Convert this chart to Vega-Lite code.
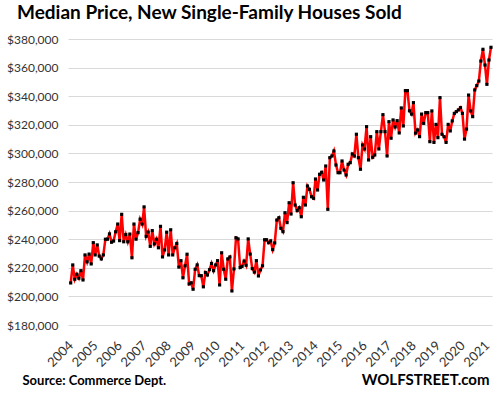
{
"$schema": "https://vega.github.io/schema/vega-lite/v6.json",
"width": 424, "height": 286,
"autosize": "none",
"padding": {"left": 68, "top": 39, "right": 8, "bottom": 71},
"background": "white",
"title": {"text": "Median Price, New Single-Family Houses Sold", "anchor": "start", "frame": "group", "dx": -51, "offset": -5, "baseline": "alphabetic", "font": "Lato", "fontSize": 19, "fontWeight": "bold", "color": "black"},
"config": {"view": {"stroke": null}, "font": "Lato"},
"data": {"values": [
{"month":"2004-03-01","price":209400},{"month":"2004-04-01","price":222000},{"month":"2004-05-01","price":212000},{"month":"2004-06-01","price":215500},{"month":"2004-07-01","price":212700},{"month":"2004-08-01","price":218000},{"month":"2004-09-01","price":211500},{"month":"2004-10-01","price":229000},{"month":"2004-11-01","price":224200},{"month":"2004-12-01","price":229600},
{"month":"2005-01-01","price":222700},{"month":"2005-02-01","price":237600},{"month":"2005-03-01","price":229000},{"month":"2005-04-01","price":236000},{"month":"2005-05-01","price":228200},{"month":"2005-06-01","price":226200},{"month":"2005-07-01","price":229000},{"month":"2005-08-01","price":240000},{"month":"2005-09-01","price":240000},{"month":"2005-10-01","price":243700},{"month":"2005-11-01","price":237900},{"month":"2005-12-01","price":238700},
{"month":"2006-01-01","price":245200},{"month":"2006-02-01","price":250600},{"month":"2006-03-01","price":239000},{"month":"2006-04-01","price":257400},{"month":"2006-05-01","price":238200},{"month":"2006-06-01","price":243200},{"month":"2006-07-01","price":238200},{"month":"2006-08-01","price":243600},{"month":"2006-09-01","price":227000},{"month":"2006-10-01","price":250600},{"month":"2006-11-01","price":240000},{"month":"2006-12-01","price":244600},
{"month":"2007-01-01","price":254000},{"month":"2007-02-01","price":250600},{"month":"2007-03-01","price":262600},{"month":"2007-04-01","price":242000},{"month":"2007-05-01","price":245000},{"month":"2007-06-01","price":235000},{"month":"2007-07-01","price":246000},{"month":"2007-08-01","price":236700},{"month":"2007-09-01","price":240000},{"month":"2007-10-01","price":234000},{"month":"2007-11-01","price":249000},{"month":"2007-12-01","price":227600},
{"month":"2008-01-01","price":232500},{"month":"2008-02-01","price":244900},{"month":"2008-03-01","price":229000},{"month":"2008-04-01","price":246600},{"month":"2008-05-01","price":229000},{"month":"2008-06-01","price":234000},{"month":"2008-07-01","price":237000},{"month":"2008-08-01","price":220500},{"month":"2008-09-01","price":225000},{"month":"2008-10-01","price":213000},{"month":"2008-11-01","price":221400},{"month":"2008-12-01","price":229500},
{"month":"2009-01-01","price":208700},{"month":"2009-02-01","price":209500},{"month":"2009-03-01","price":205000},{"month":"2009-04-01","price":219000},{"month":"2009-05-01","price":222000},{"month":"2009-06-01","price":214500},{"month":"2009-07-01","price":214500},{"month":"2009-08-01","price":206700},{"month":"2009-09-01","price":216700},{"month":"2009-10-01","price":215000},{"month":"2009-11-01","price":218700},{"month":"2009-12-01","price":223000},
{"month":"2010-01-01","price":218000},{"month":"2010-02-01","price":222000},{"month":"2010-03-01","price":225000},{"month":"2010-04-01","price":208000},{"month":"2010-05-01","price":230500},{"month":"2010-06-01","price":219000},{"month":"2010-07-01","price":212000},{"month":"2010-08-01","price":226200},{"month":"2010-09-01","price":227600},{"month":"2010-10-01","price":203800},{"month":"2010-11-01","price":219200},{"month":"2010-12-01","price":241000},
{"month":"2011-01-01","price":240200},{"month":"2011-02-01","price":220200},{"month":"2011-03-01","price":221000},{"month":"2011-04-01","price":224700},{"month":"2011-05-01","price":221800},{"month":"2011-06-01","price":240200},{"month":"2011-07-01","price":229600},{"month":"2011-08-01","price":219400},{"month":"2011-09-01","price":217000},{"month":"2011-10-01","price":225000},{"month":"2011-11-01","price":214300},{"month":"2011-12-01","price":218500},
{"month":"2012-01-01","price":221400},{"month":"2012-02-01","price":239600},{"month":"2012-03-01","price":239600},{"month":"2012-04-01","price":237500},{"month":"2012-05-01","price":238800},{"month":"2012-06-01","price":232700},{"month":"2012-07-01","price":237400},{"month":"2012-08-01","price":253400},{"month":"2012-09-01","price":255000},{"month":"2012-10-01","price":247600},{"month":"2012-11-01","price":245300},{"month":"2012-12-01","price":258500},
{"month":"2013-01-01","price":251600},{"month":"2013-02-01","price":265500},{"month":"2013-03-01","price":257600},{"month":"2013-04-01","price":279500},{"month":"2013-05-01","price":263900},{"month":"2013-06-01","price":260000},{"month":"2013-07-01","price":262000},{"month":"2013-08-01","price":255700},{"month":"2013-09-01","price":269300},{"month":"2013-10-01","price":263900},{"month":"2013-11-01","price":277200},{"month":"2013-12-01","price":274900},
{"month":"2014-01-01","price":269700},{"month":"2014-02-01","price":268600},{"month":"2014-03-01","price":282100},{"month":"2014-04-01","price":274400},{"month":"2014-05-01","price":285400},{"month":"2014-06-01","price":286800},{"month":"2014-07-01","price":281400},{"month":"2014-08-01","price":291200},{"month":"2014-09-01","price":260900},{"month":"2014-10-01","price":297000},{"month":"2014-11-01","price":298200},{"month":"2014-12-01","price":301700},
{"month":"2015-01-01","price":291900},{"month":"2015-02-01","price":286500},{"month":"2015-03-01","price":286500},{"month":"2015-04-01","price":294700},{"month":"2015-05-01","price":288400},{"month":"2015-06-01","price":284900},{"month":"2015-07-01","price":292400},{"month":"2015-08-01","price":293500},{"month":"2015-09-01","price":299600},{"month":"2015-10-01","price":298200},{"month":"2015-11-01","price":313400},{"month":"2015-12-01","price":297000},
{"month":"2016-01-01","price":288900},{"month":"2016-02-01","price":305900},{"month":"2016-03-01","price":303100},{"month":"2016-04-01","price":318700},{"month":"2016-05-01","price":295400},{"month":"2016-06-01","price":311700},{"month":"2016-07-01","price":297300},{"month":"2016-08-01","price":298900},{"month":"2016-09-01","price":315200},{"month":"2016-10-01","price":303100},{"month":"2016-11-01","price":315200},{"month":"2016-12-01","price":327100},
{"month":"2017-01-01","price":315200},{"month":"2017-02-01","price":298200},{"month":"2017-03-01","price":322200},{"month":"2017-04-01","price":310600},{"month":"2017-05-01","price":323400},{"month":"2017-06-01","price":318500},{"month":"2017-07-01","price":322900},{"month":"2017-08-01","price":314300},{"month":"2017-09-01","price":331800},{"month":"2017-10-01","price":319200},{"month":"2017-11-01","price":343900},{"month":"2017-12-01","price":343900},
{"month":"2018-01-01","price":329800},{"month":"2018-02-01","price":327500},{"month":"2018-03-01","price":335500},{"month":"2018-04-01","price":314200},{"month":"2018-05-01","price":316400},{"month":"2018-06-01","price":311700},{"month":"2018-07-01","price":327500},{"month":"2018-08-01","price":321000},{"month":"2018-09-01","price":328500},{"month":"2018-10-01","price":328500},{"month":"2018-11-01","price":308200},{"month":"2018-12-01","price":329700},
{"month":"2019-01-01","price":307700},{"month":"2019-02-01","price":320300},{"month":"2019-03-01","price":311000},{"month":"2019-04-01","price":339000},{"month":"2019-05-01","price":313400},{"month":"2019-06-01","price":311700},{"month":"2019-07-01","price":307700},{"month":"2019-08-01","price":320300},{"month":"2019-09-01","price":315700},{"month":"2019-10-01","price":322700},{"month":"2019-11-01","price":328000},{"month":"2019-12-01","price":329200},
{"month":"2020-01-01","price":330400},{"month":"2020-02-01","price":332000},{"month":"2020-03-01","price":328000},{"month":"2020-04-01","price":310000},{"month":"2020-05-01","price":317000},{"month":"2020-06-01","price":340800},{"month":"2020-07-01","price":329700},{"month":"2020-08-01","price":325700},{"month":"2020-09-01","price":344400},{"month":"2020-10-01","price":347400},{"month":"2020-11-01","price":350600},{"month":"2020-12-01","price":364600},
{"month":"2021-01-01","price":372800},{"month":"2021-02-01","price":361800},{"month":"2021-03-01","price":348300},{"month":"2021-04-01","price":365300},{"month":"2021-05-01","price":374200}
]},
"encoding": {
  "x": {"field": "month", "type": "temporal",
    "scale": {"type": "utc", "domain": [{"year": 2004, "month": 1, "date": 21, "utc": true}, {"year": 2021, "month": 5, "date": 16, "utc": true}]},
    "axis": {
      "values": [
        {"year": 2004, "month": 3, "date": 1, "utc": true},{"year": 2005, "month": 3, "date": 1, "utc": true},{"year": 2006, "month": 3, "date": 1, "utc": true},{"year": 2007, "month": 3, "date": 1, "utc": true},{"year": 2008, "month": 3, "date": 1, "utc": true},{"year": 2009, "month": 3, "date": 1, "utc": true},{"year": 2010, "month": 3, "date": 1, "utc": true},{"year": 2011, "month": 3, "date": 1, "utc": true},{"year": 2012, "month": 3, "date": 1, "utc": true},{"year": 2013, "month": 3, "date": 1, "utc": true},{"year": 2014, "month": 3, "date": 1, "utc": true},{"year": 2015, "month": 3, "date": 1, "utc": true},{"year": 2016, "month": 3, "date": 1, "utc": true},{"year": 2017, "month": 3, "date": 1, "utc": true},{"year": 2018, "month": 3, "date": 1, "utc": true},{"year": 2019, "month": 3, "date": 1, "utc": true},{"year": 2020, "month": 3, "date": 1, "utc": true},{"year": 2021, "month": 3, "date": 1, "utc": true}
      ],
      "format": "%Y", "labelAngle": -45, "labelAlign": "right", "labelBaseline": "middle", "labelPadding": 18,
      "labelFlush": false, "labelOverlap": false, "labelBound": false,
      "ticks": false, "domain": false, "grid": false,
      "labelFontSize": 13, "labelColor": "#333333", "labelFont": "Lato",
      "title": "Source: Commerce Dept.", "titleX": -46, "titleY": 59, "titleAlign": "left", "titleBaseline": "alphabetic",
      "titleFontSize": 13, "titleFontWeight": "bold", "titleColor": "black", "titleFont": "Lato"
    }
  }
},
"layer": [
  {"mark": {"type": "line", "color": "#ff0000", "strokeWidth": 2.5},
   "encoding": {
     "y": {"field": "price", "type": "quantitative",
       "scale": {"domain": [180000, 380000], "nice": false, "zero": false},
       "axis": {"values": [180000, 200000, 220000, 240000, 260000, 280000, 300000, 320000, 340000, 360000, 380000],
         "format": "$,.0f", "grid": true, "gridColor": "#d9d9d9", "gridWidth": 1, "ticks": false, "domain": false,
         "labelFontSize": 12, "labelPadding": 10, "labelColor": "#333333", "labelFont": "Lato", "title": null}
     }
   }},
  {"mark": {"type": "square", "color": "black", "size": 10, "opacity": 1},
   "encoding": {
     "y": {"field": "price", "type": "quantitative",
       "scale": {"domain": [180000, 380000], "nice": false, "zero": false},
       "axis": {"orient": "right", "labels": false, "ticks": false, "domain": false, "grid": false,
         "title": "WOLFSTREET.com", "titleAngle": 0, "titleX": -3, "titleY": 345, "titleAlign": "right", "titleBaseline": "alphabetic",
         "titleFontSize": 15, "titleFontWeight": "bold", "titleColor": "black", "titleFont": "Lato"}
     }
   }}
],
"resolve": {"scale": {"y": "independent"}, "axis": {"y": "independent"}}
}
